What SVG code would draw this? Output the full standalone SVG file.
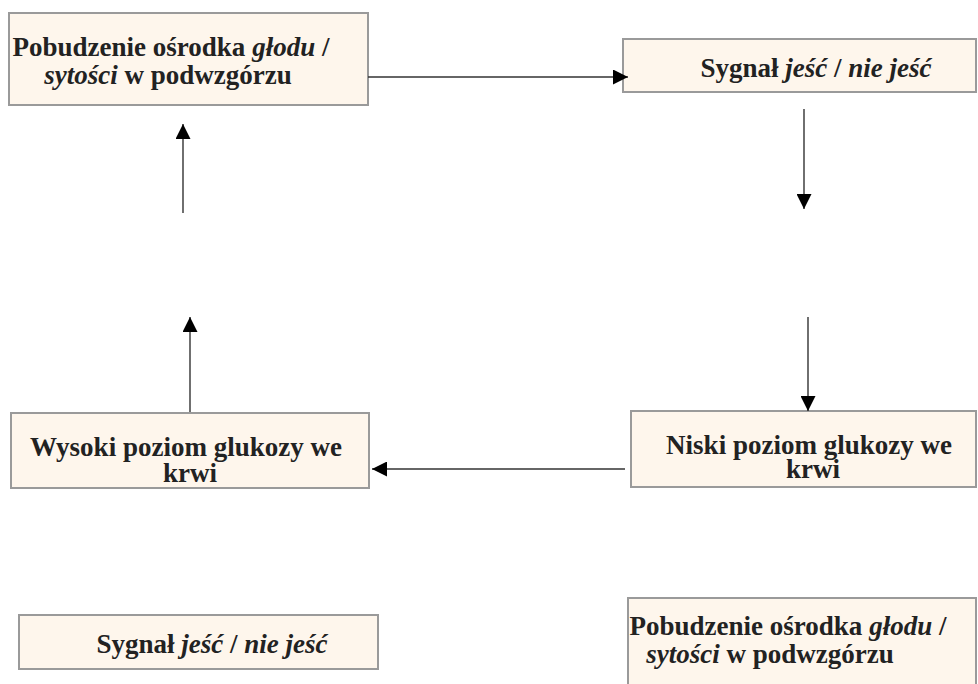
<svg xmlns="http://www.w3.org/2000/svg" width="978" height="684" viewBox="0 0 978 684">
  <style>
    .box { fill: #FEF6EC; stroke: #9A9A9A; stroke-width: 2; }
    .i { font-style: italic; }
    .conn { stroke: #333; stroke-width: 1.4; fill: none; marker-end: url(#ah); }
  </style>
  <defs>
    <marker id="ah" viewBox="0 0 10 10" refX="10" refY="5" markerWidth="15" markerHeight="15" markerUnits="userSpaceOnUse" orient="auto">
      <path d="M0,0 L10,5 L0,10 Z" fill="#000"/>
    </marker>
  </defs>
  <rect width="978" height="684" fill="#fff"/>

  <g font-family="Liberation Serif, DejaVu Serif, serif" font-weight="bold" font-size="27" fill="#222" text-anchor="middle">
  <g id="node1">
    <rect class="box" x="9" y="13" width="359" height="92"/>
    <text x="171" y="56">Pobudzenie ośrodka <tspan class="i">głodu</tspan> /</text>
    <text x="168" y="84"><tspan class="i">sytości</tspan> w podwzgórzu</text>
  </g>
  <g id="node2">
    <rect class="box" x="623" y="39" width="353" height="53"/>
    <text x="816" y="77">Sygnał <tspan class="i">jeść</tspan> / <tspan class="i">nie jeść</tspan></text>
  </g>
  <g id="node3">
    <rect class="box" x="11" y="413" width="358" height="75"/>
    <text x="186" y="456">Wysoki poziom glukozy we</text>
    <text x="190" y="482">krwi</text>
  </g>
  <g id="node4">
    <rect class="box" x="631" y="411" width="345" height="76"/>
    <text x="809" y="454">Niski poziom glukozy we</text>
    <text x="813" y="478">krwi</text>
  </g>
  <g id="node5">
    <rect class="box" x="19" y="615" width="359" height="54"/>
    <text x="212" y="653">Sygnał <tspan class="i">jeść</tspan> / <tspan class="i">nie jeść</tspan></text>
  </g>
  <g id="node6">
    <rect class="box" x="628" y="598" width="348" height="100"/>
    <text x="788" y="635">Pobudzenie ośrodka <tspan class="i">głodu</tspan> /</text>
    <text x="770" y="663"><tspan class="i">sytości</tspan> w podwzgórzu</text>
  </g>
  </g>

  <g id="connectors">
    <line class="conn" x1="368" y1="77" x2="628" y2="77"/>
    <line class="conn" x1="804" y1="109" x2="804" y2="209"/>
    <line class="conn" x1="808" y1="317" x2="808" y2="411"/>
    <line class="conn" x1="625" y1="469" x2="372" y2="469"/>
    <line class="conn" x1="190" y1="412" x2="190" y2="317"/>
    <line class="conn" x1="183" y1="213" x2="183" y2="124"/>
  </g>
</svg>
